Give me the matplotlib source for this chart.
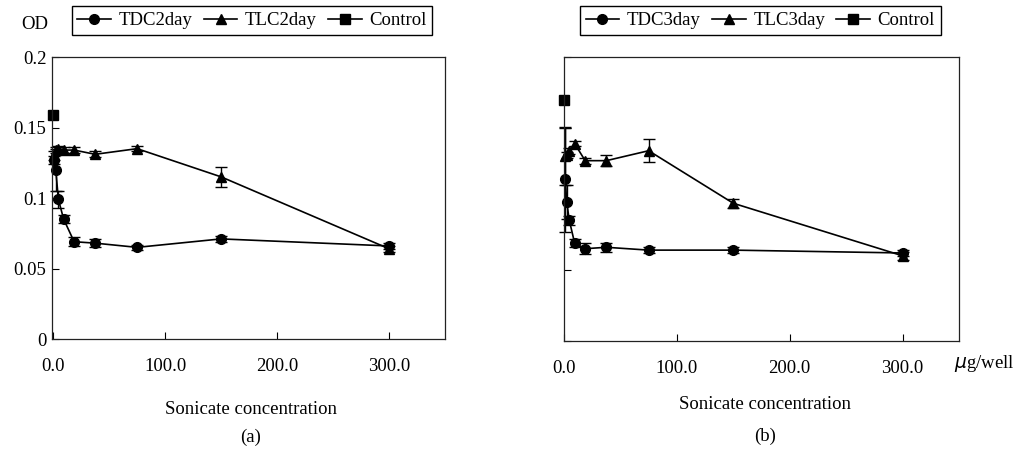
# plot.py
# Two-panel OD vs sonicate concentration chart, (a) 2 day and (b) 3 day
import matplotlib
matplotlib.use("Agg")
import matplotlib.pyplot as plt
from matplotlib.lines import Line2D

plt.rcParams['font.family'] = ['Liberation Serif', 'DejaVu Serif']

# ── data ─────────────────────────────────────────────────────
conc = [1.17, 2.34, 4.69, 9.38, 18.75, 37.5, 75, 150, 300]

tdc2_y   = [0.127, 0.120, 0.099, 0.085, 0.069, 0.068, 0.065, 0.071, 0.066]
tdc2_err = [0.003, 0.015, 0.006, 0.003, 0.003, 0.003, 0.002, 0.002, 0.002]
tlc2_y   = [0.130, 0.134, 0.135, 0.134, 0.134, 0.131, 0.135, 0.115, 0.064]
tlc2_err = [0.003, 0.002, 0.002, 0.002, 0.002, 0.002, 0.002, 0.007, 0.002]
ctrl2_y  = 0.159

tdc3_y   = [0.114, 0.098, 0.085, 0.069, 0.065, 0.066, 0.064, 0.064, 0.062]
tdc3_err = [0.037, 0.012, 0.003, 0.003, 0.004, 0.003, 0.002, 0.002, 0.002]
tlc3_y   = [0.130, 0.131, 0.134, 0.139, 0.127, 0.127, 0.134, 0.097, 0.060]
tlc3_err = [0.020, 0.002, 0.002, 0.002, 0.002, 0.004, 0.008, 0.003, 0.003]
ctrl3_y  = 0.170

x_ticks  = [0, 100, 200, 300]
x_labels = ['0.0', '100.0', '200.0', '300.0']
y_ticks  = [0, 0.05, 0.1, 0.15, 0.2]
y_labels = ['0', '0.05', '0.1', '0.15', '0.2']

FS = 13.5

fig = plt.figure(figsize=(10.24, 4.51), dpi=100)
ax_a = fig.add_axes([0.0508, 0.2483, 0.3838, 0.6253])
ax_b = fig.add_axes([0.5508, 0.2439, 0.3857, 0.6297])


def draw_panel(ax, tdc_y, tdc_err, tlc_y, tlc_err, ctrl_y):
    common = dict(color='k', lw=1.2, elinewidth=1.0, capsize=4, capthick=1.0,
                  clip_on=False)
    ax.errorbar(conc, tdc_y, yerr=tdc_err, fmt='-o', ms=7, **common)
    ax.errorbar(conc, tlc_y, yerr=tlc_err, fmt='-^', ms=7, **common)
    ax.plot([0], [ctrl_y], 's', color='k', ms=7, clip_on=False)
    ax.set_ylim(0, 0.2)
    ax.set_xticks(x_ticks)
    ax.set_xticklabels(x_labels, fontsize=FS)
    ax.set_yticks(y_ticks)
    ax.tick_params(direction='in', length=5, width=0.8, pad=14, axis='x')
    ax.tick_params(direction='in', length=5, width=0.8, pad=4, axis='y')
    for s in ax.spines.values():
        s.set_linewidth(0.9)
        s.set_color('#222222')


# legend handles: line through marker, no error bars
handles = [Line2D([], [], color='k', lw=1.2, marker=m, ms=7) for m in ['o', '^', 's']]
leg_kw = dict(ncol=3, fontsize=FS, loc='center', frameon=True, fancybox=False,
              edgecolor='k', handlelength=1.8, columnspacing=0.6,
              handletextpad=0.4, borderpad=0.3, borderaxespad=0.2, framealpha=1)

draw_panel(ax_a, tdc2_y, tdc2_err, tlc2_y, tlc2_err, ctrl2_y)
ax_a.set_xlim(-1, 350)
ax_a.set_yticklabels(y_labels, fontsize=FS)
fig.legend(handles, ['TDC2day', 'TLC2day', 'Control'],
           bbox_to_anchor=(0.2461, 0.9545), **leg_kw)

draw_panel(ax_b, tdc3_y, tdc3_err, tlc3_y, tlc3_err, ctrl3_y)
ax_b.set_xlim(0, 350)
ax_b.set_yticklabels([])
fig.legend(handles, ['TDC3day', 'TLC3day', 'Control'],
           bbox_to_anchor=(0.7424, 0.9545), **leg_kw)

# ── free texts ───────────────────────────────────────────────
fig.text(0.034, 0.945, 'OD', fontsize=FS, ha='center', va='center')
fig.text(0.961, 0.195, r'$\mu$g/well', fontsize=FS, ha='center', va='center')
fig.text(0.245, 0.092, 'Sonicate concentration', fontsize=FS, ha='center', va='center')
fig.text(0.245, 0.030, '(a)', fontsize=FS, ha='center', va='center')
fig.text(0.747, 0.102, 'Sonicate concentration', fontsize=FS, ha='center', va='center')
fig.text(0.747, 0.033, '(b)', fontsize=FS, ha='center', va='center')

fig.savefig('out.png', dpi=100)
